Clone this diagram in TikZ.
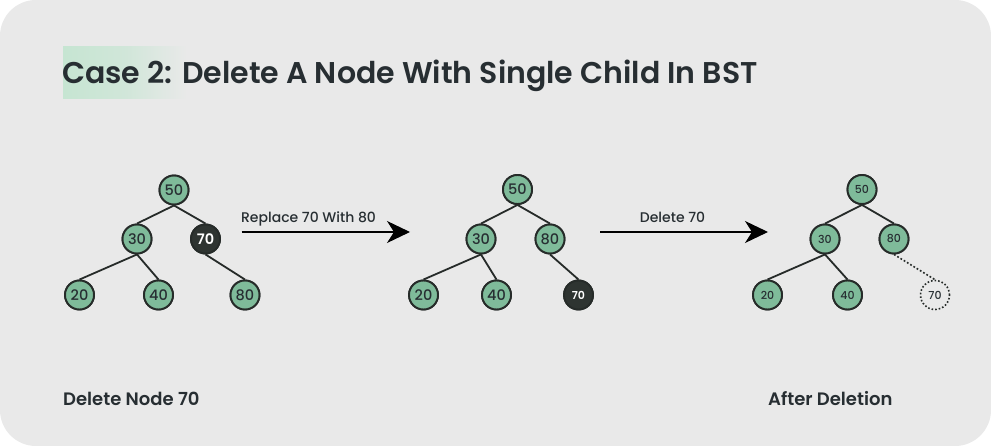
\documentclass[tikz,border=0pt]{standalone}
\usepackage{fontspec}
\setmainfont{Poppins}
\newfontfamily\pmed{Poppins Medium}
\newfontfamily\psemi{Poppins SemiBold}
\usetikzlibrary{arrows.meta}
\definecolor{bg}{RGB}{233,233,233}
\definecolor{hl}{RGB}{198,229,210}
\definecolor{ink}{RGB}{39,46,50}
\definecolor{nfill}{RGB}{127,187,154}
\definecolor{nedge}{RGB}{38,43,41}
\definecolor{dark}{RGB}{46,52,49}
\tikzset{
  bnode/.style={circle, draw=nedge, fill=nfill, line width=1.9pt, minimum size=29pt, inner sep=0pt, text=ink, font=\pmed\fontsize{14.5}{14.5}\selectfont},
  snode/.style={bnode, font=\pmed\fontsize{11}{11}\selectfont},
  dnode/.style={bnode, fill=dark, text=white, font=\psemi\fontsize{11}{11}\selectfont},
  ghost/.style={circle, draw=nedge, dotted, line width=1.6pt, minimum size=29pt, inner sep=0pt, text=ink, font=\pmed\fontsize{11}{11}\selectfont},
  link/.style={draw=nedge, line width=1.8pt},
  arr/.style={draw=black, line width=1.2pt, -{Stealth[length=23pt,width=22pt,inset=7pt]}},
  albl/.style={anchor=base, inner sep=0pt, text=ink, font=\pmed\fontsize{14}{14}\selectfont},
  captxt/.style={anchor=base west, inner sep=0pt, text=ink, font=\psemi\fontsize{18}{18}\selectfont}
}
\begin{document}
\begin{tikzpicture}[x=1pt,y=-1pt]
\useasboundingbox (0,0) rectangle (991,446);
\fill[white] (0,0) rectangle (991,446);
\fill[bg, rounded corners=36pt] (0,0) rectangle (991,446);
\shade[left color=hl, right color=bg, middle color=hl!70!bg, shading angle=90] (63,47) rectangle (187,99);
\node[anchor=base west, inner sep=0pt, text=ink, font=\psemi\fontsize{30}{30}\selectfont] (title) at (62,83.5) {Case 2: Delete A Node With Single Child In BST};

% Tree 1
\node[bnode] (a50) at (174,190) {50};
\node[bnode] (a30) at (137,239) {30};
\node[dnode, font=\psemi\fontsize{14.5}{14.5}\selectfont] (a70) at (205.5,239) {70};
\node[bnode] (a20) at (79.5,295) {20};
\node[bnode] (a40) at (158.5,295) {40};
\node[bnode] (a80) at (245,295) {80};

% Tree 2
\node[bnode] (b50) at (517.5,189.5) {50};
\node[bnode] (b30) at (481,239) {30};
\node[bnode] (b80) at (550,239) {80};
\node[bnode] (b20) at (423.5,295) {20};
\node[bnode] (b40) at (496.5,295) {40};
\node[dnode] (b70) at (578.5,295) {70};

% Tree 3
\node[snode] (c50) at (862,189.5) {50};
\node[snode] (c30) at (825,239) {30};
\node[snode] (c80) at (894,239) {80};
\node[snode] (c20) at (767.5,295) {20};
\node[snode] (c40) at (847.5,295) {40};
\node[ghost] (c70) at (935,295) {70};

% edges
\draw[link] (a50.south) -- (a30.north);
\draw[link] (a50.south) -- (a70.north);
\draw[link] (a30.south) -- (a20.north);
\draw[link] (a30.south) -- (a40.north);
\draw[link] (a70.south) -- (a80.north);
\draw[link] (b50.south) -- (b30.north);
\draw[link] (b50.south) -- (b80.north);
\draw[link] (b30.south) -- (b20.north);
\draw[link] (b30.south) -- (b40.north);
\draw[link] (b80.south) -- (b70.north);
\draw[link] (c50.south) -- (c30.north);
\draw[link] (c50.south) -- (c80.north);
\draw[link] (c30.south) -- (c20.north);
\draw[link] (c30.south) -- (c40.north);
\draw[link, dotted, line width=1.6pt] (c80.south) -- (c70.north);

% redraw nodes on top of edges
\node[bnode] at (a50) {50};
\node[bnode] at (a30) {30};
\node[dnode, font=\psemi\fontsize{14.5}{14.5}\selectfont] at (a70) {70};
\node[bnode] at (a20) {20};
\node[bnode] at (a40) {40};
\node[bnode] at (a80) {80};
\node[bnode] at (b50) {50};
\node[bnode] at (b30) {30};
\node[bnode] at (b80) {80};
\node[bnode] at (b20) {20};
\node[bnode] at (b40) {40};
\node[dnode] at (b70) {70};
\node[snode] at (c50) {50};
\node[snode] at (c30) {30};
\node[snode] at (c80) {80};
\node[snode] at (c20) {20};
\node[snode] at (c40) {40};

% arrows
\coordinate (p1s) at (241.5,232);
\coordinate (p1e) at (410,232);
\coordinate (p2s) at (600,232);
\coordinate (p2e) at (768,232);
\draw[arr] (p1s) -- (p1e);
\draw[arr] (p2s) -- (p2e);
\node[albl] (l1) at (308.5,222.3) {Replace 70 With 80};
\node[albl] (l2) at (672.5,222.3) {Delete 70};

\node[captxt] (c1) at (63,406) {Delete Node 70};
\node[captxt] (c2) at (768,406) {After Deletion};
\end{tikzpicture}
\end{document}
